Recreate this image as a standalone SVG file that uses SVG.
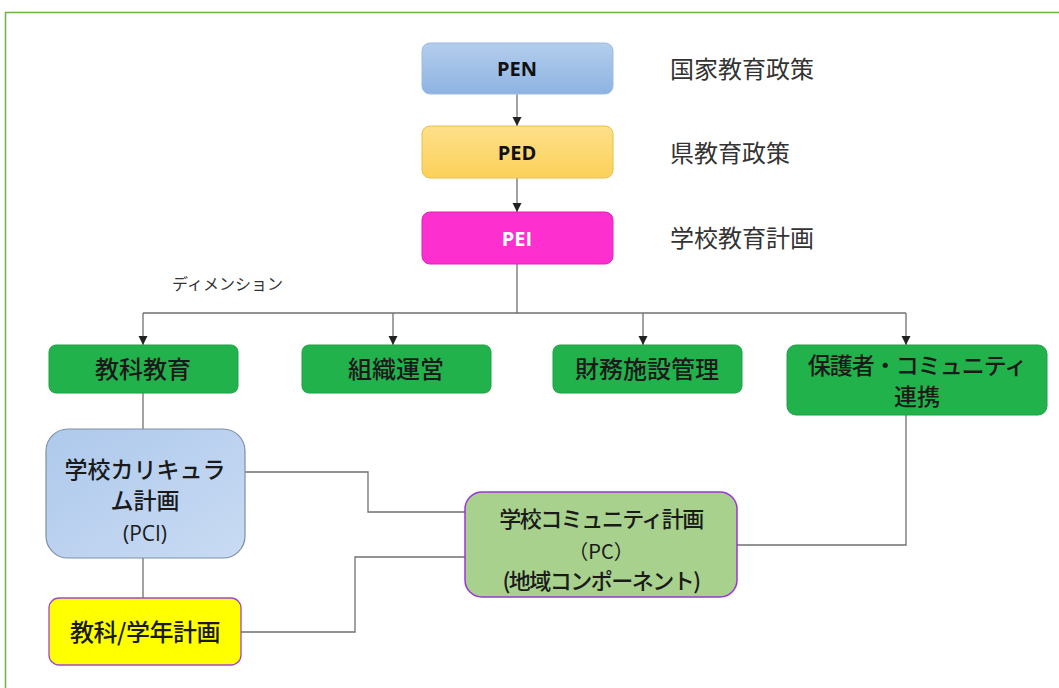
<svg xmlns="http://www.w3.org/2000/svg" width="1059" height="688" viewBox="0 0 1059 688">
<defs>
<style>
.jp{font-family:"Noto Sans CJK JP","Noto Sans",sans-serif;font-size:23px;font-weight:500;fill:#1a1a1a;text-anchor:middle}
.lbl{font-family:"Noto Sans CJK JP",sans-serif;font-size:24px;fill:#333;}
.en{font-family:"Open Sans","Noto Sans",sans-serif;font-weight:bold;font-size:20px;text-anchor:middle;fill:#111}
.conn{fill:none;stroke:#707070;stroke-width:1.3}
.green{fill:#22b24c;stroke:#1fa044;stroke-width:1}
</style>
<linearGradient id="blue" x1="0" y1="0" x2="0" y2="1">
<stop offset="0" stop-color="#b4cdec"/><stop offset="1" stop-color="#8db3e2"/>
</linearGradient>
<linearGradient id="blue2" x1="0" y1="0" x2="1" y2="1">
<stop offset="0" stop-color="#aec9ec"/><stop offset="1" stop-color="#c9dbf3"/>
</linearGradient>
<linearGradient id="gold" x1="0" y1="0" x2="0" y2="1">
<stop offset="0" stop-color="#fee08a"/><stop offset="1" stop-color="#fcd159"/>
</linearGradient>
<marker id="arr" viewBox="0 0 10 10" refX="10" refY="5" markerWidth="7" markerHeight="7" orient="auto">
<path d="M0,0 L10,5 L0,10 z" fill="#222"/>
</marker>
</defs>
<rect x="0" y="0" width="1059" height="688" fill="#ffffff"/>
<path d="M5.5,688 V12.5 H1059" fill="none" stroke="#6cb33f" stroke-width="1.5"/>

<g id="connectors">
<line class="conn" x1="517" y1="94" x2="517" y2="126" marker-end="url(#arr)"/>
<line class="conn" x1="517" y1="178" x2="517" y2="212" marker-end="url(#arr)"/>
<polyline class="conn" points="517,264 517,313 143,313"/>
<line class="conn" x1="517" y1="313" x2="906" y2="313"/>
<line class="conn" x1="143" y1="313" x2="143" y2="345" marker-end="url(#arr)"/>
<line class="conn" x1="393" y1="313" x2="393" y2="345" marker-end="url(#arr)"/>
<line class="conn" x1="643" y1="313" x2="643" y2="345" marker-end="url(#arr)"/>
<line class="conn" x1="906" y1="313" x2="906" y2="345" marker-end="url(#arr)"/>
<line class="conn" x1="143" y1="393" x2="143" y2="429"/>
<line class="conn" x1="143" y1="558" x2="143" y2="598"/>
<polyline class="conn" points="245,472 368,472 368,512 465,512"/>
<polyline class="conn" points="241,632 355,632 355,557 465,557"/>
<polyline class="conn" points="737,545 906,545 906,415"/>
</g>

<g id="pen">
<rect x="422" y="43" width="191" height="51" rx="8" fill="url(#blue)" stroke="#9dbbe3"/>
<text class="en" x="517" y="76">PEN</text>
</g>
<g id="pen-label"><text class="lbl" x="670" y="78">国家教育政策</text></g>

<g id="ped">
<rect x="422" y="126" width="191" height="52" rx="8" fill="url(#gold)" stroke="#e8c04e"/>
<text class="en" x="517" y="160">PED</text>
</g>
<g id="ped-label"><text class="lbl" x="670" y="162">県教育政策</text></g>

<g id="pei">
<rect x="422" y="212" width="191" height="52" rx="8" fill="#fd2fcf" stroke="#e020bb"/>
<text class="en" x="517" y="246" style="fill:#ffffff">PEI</text>
</g>
<g id="pei-label"><text class="lbl" x="670" y="247">学校教育計画</text></g>

<g id="dim-label"><text x="172" y="290" style="font-family:'Noto Sans CJK JP',serif;font-size:16px;fill:#333">ディメンション</text></g>

<g id="kyoka">
<rect class="green" x="49" y="345" width="189" height="48" rx="7"/>
<text class="jp" x="143" y="378" style="font-size:24px">教科教育</text>
</g>
<g id="soshiki">
<rect class="green" x="302" y="345" width="189" height="48" rx="7"/>
<text class="jp" x="396" y="378" style="font-size:24px">組織運営</text>
</g>
<g id="zaimu">
<rect class="green" x="553" y="345" width="189" height="48" rx="7"/>
<text class="jp" x="647" y="378" style="font-size:24px">財務施設管理</text>
</g>
<g id="hogosha">
<rect class="green" x="787" y="345" width="260" height="70" rx="9"/>
<text class="jp" x="917" y="374" style="letter-spacing:-1px">保護者・コミュニティ</text>
<text class="jp" x="917" y="405">連携</text>
</g>

<g id="pci">
<rect x="46" y="429" width="199" height="129" rx="22" fill="url(#blue2)" stroke="#7f8fa6" stroke-width="1.2"/>
<text class="jp" x="145" y="478">学校カリキュラ</text>
<text class="jp" x="145" y="509">ム計画</text>
<text class="jp" x="145" y="541" style="font-family:'Open Sans',sans-serif;font-weight:normal;font-size:21px">(PCI)</text>
</g>

<g id="kyoka-plan">
<rect x="49" y="598" width="192" height="67" rx="10" fill="#ffff00" stroke="#a347c8" stroke-width="1.3"/>
<text class="jp" x="145" y="641" style="font-size:24px;letter-spacing:-0.5px">教科/学年計画</text>
</g>

<g id="pc">
<rect x="465" y="492" width="272" height="105" rx="17" fill="#a8d18d" stroke="#9b35d6" stroke-width="1.5"/>
<text class="jp" x="601" y="527" style="font-size:22px;letter-spacing:-1.5px">学校コミュニティ計画</text>
<text class="jp" x="601" y="559" style="font-size:20px;font-weight:normal">（PC）</text>
<text class="jp" x="601" y="589" style="font-size:22px;letter-spacing:-1.5px">(地域コンポーネント)</text>
</g>
</svg>
